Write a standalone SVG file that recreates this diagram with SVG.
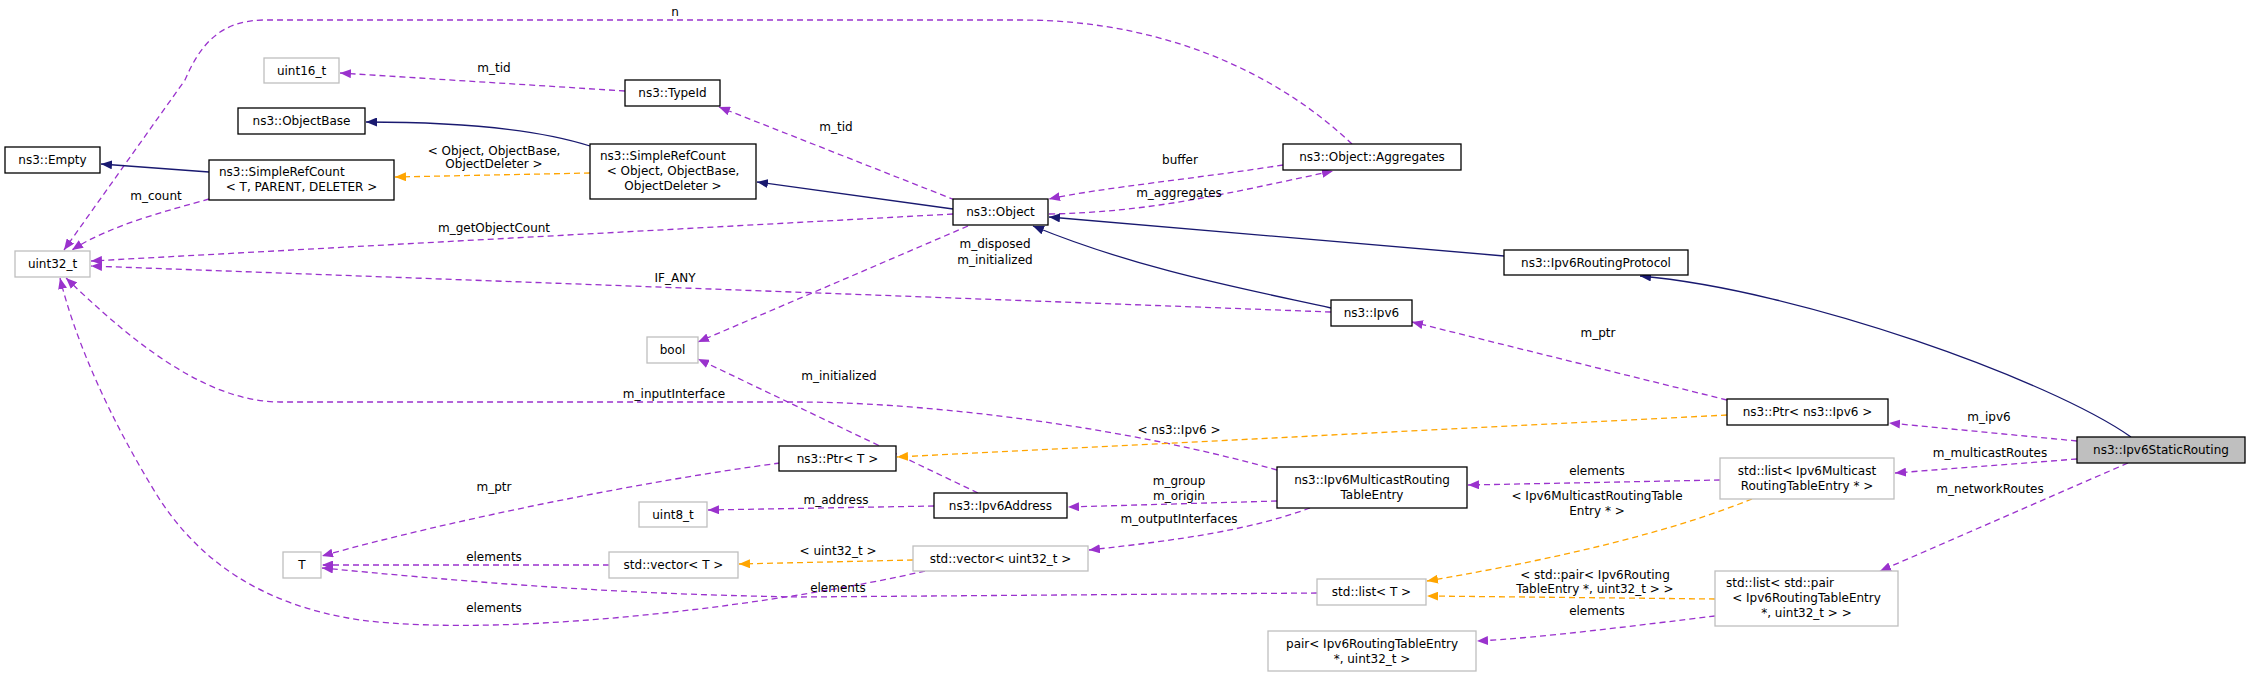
<svg xmlns="http://www.w3.org/2000/svg" width="2251" height="677" viewBox="0 0 2251 677">
<style>
text{font-family:"DejaVu Sans",sans-serif;font-size:12px;fill:#000}
.n rect{fill:#fff;stroke:#000;stroke-width:1.3}
.g rect{fill:#fff;stroke:#bfbfbf;stroke-width:1.3}
.m{text-anchor:middle}
.e path{fill:none;stroke-width:1.3}
.inh{stroke:#191970;marker-end:url(#ai)}
.mem{stroke:#9a32cd;stroke-dasharray:6,4;marker-end:url(#am)}
.tpl{stroke:#ffa500;stroke-dasharray:6,4;marker-end:url(#at)}
</style>
<defs>
<marker id="ai" markerUnits="userSpaceOnUse" markerWidth="12" markerHeight="9" refX="11" refY="4.5" orient="auto"><path d="M0,0L11,4.5L0,9z" fill="#191970"/></marker>
<marker id="am" markerUnits="userSpaceOnUse" markerWidth="12" markerHeight="9" refX="11" refY="4.5" orient="auto"><path d="M0,0L11,4.5L0,9z" fill="#9a32cd"/></marker>
<marker id="at" markerUnits="userSpaceOnUse" markerWidth="12" markerHeight="9" refX="11" refY="4.5" orient="auto"><path d="M0,0L11,4.5L0,9z" fill="#ffa500"/></marker>
</defs>
<rect width="2251" height="677" fill="#fff"/>
<g id="edges" class="e">
<path class="mem" d="M1352,144 C1290,85 1180,20 1020,20 L265,20 C220,20 200,45 185,80 L64,250"/>
<path class="mem" d="M625,91 L340,73"/>
<path class="mem" d="M955,200 L719,107"/>
<path class="inh" d="M590,146 C540,130 460,122 366,122"/>
<path class="inh" d="M209,172 L101,164"/>
<path class="tpl" d="M590,173 L395,177"/>
<path class="inh" d="M953,209 L757,182"/>
<path class="mem" d="M209,199 C170,210 110,225 72,250"/>
<path class="mem" d="M953,214 L91,261"/>
<path class="mem" d="M1331,312 L91,266"/>
<path class="mem" d="M1283,165 C1200,178 1100,188 1049,199"/>
<path class="mem" d="M1049,214 C1150,212 1220,195 1333,171"/>
<path class="inh" d="M1504,256 L1049,217"/>
<path class="inh" d="M1331,308 C1250,290 1140,270 1033,226"/>
<path class="inh" d="M2131,437 C2050,380 1800,290 1640,276"/>
<path class="mem" d="M968,226 L698,342"/>
<path class="mem" d="M978,493 L698,359"/>
<path class="mem" d="M1277,470 C1100,420 900,402 800,402 L280,402 C200,402 120,330 66,278"/>
<path class="mem" d="M1727,400 L1412,322"/>
<path class="tpl" d="M1727,415 L897,457"/>
<path class="mem" d="M2077,441 L1889,423"/>
<path class="mem" d="M2077,459 L1895,473"/>
<path class="mem" d="M2128,463 L1880,571"/>
<path class="mem" d="M1720,480 L1468,485"/>
<path class="tpl" d="M1752,499 C1650,540 1520,565 1427,581"/>
<path class="tpl" d="M1715,599 L1427,596"/>
<path class="mem" d="M1715,616 C1640,625 1540,638 1477,641"/>
<path class="mem" d="M780,463 C650,480 450,520 322,556"/>
<path class="mem" d="M934,506 L708,510"/>
<path class="mem" d="M1277,501 L1068,507"/>
<path class="mem" d="M1310,508 C1250,530 1180,540 1089,550"/>
<path class="mem" d="M609,565 L322,565"/>
<path class="tpl" d="M913,560 L739,564"/>
<path class="mem" d="M1317,593 L800,597 C600,594 450,580 322,568"/>
<path class="mem" d="M925,571 C800,600 520,640 360,620 C260,605 200,560 160,500 C110,420 75,340 60,278"/>
</g>
<g id="edge-labels" class="m">
<text x="675" y="16">n</text>
<text x="494" y="72">m_tid</text>
<text x="836" y="131">m_tid</text>
<text x="494" y="155">&lt; Object, ObjectBase,</text>
<text x="494" y="168">ObjectDeleter &gt;</text>
<text x="156" y="200">m_count</text>
<text x="494" y="232">m_getObjectCount</text>
<text x="675" y="282">IF_ANY</text>
<text x="1180" y="164">buffer</text>
<text x="1179" y="197">m_aggregates</text>
<text x="995" y="248">m_disposed</text>
<text x="995" y="264">m_initialized</text>
<text x="674" y="398">m_inputInterface</text>
<text x="839" y="380">m_initialized</text>
<text x="1598" y="337">m_ptr</text>
<text x="1179" y="434">&lt; ns3::Ipv6 &gt;</text>
<text x="1989" y="421">m_ipv6</text>
<text x="1990" y="457">m_multicastRoutes</text>
<text x="1990" y="493">m_networkRoutes</text>
<text x="1597" y="475">elements</text>
<text x="1597" y="500">&lt; Ipv6MulticastRoutingTable</text>
<text x="1597" y="515">Entry * &gt;</text>
<text x="1179" y="485">m_group</text>
<text x="1179" y="500">m_origin</text>
<text x="836" y="504">m_address</text>
<text x="1179" y="523">m_outputInterfaces</text>
<text x="494" y="491">m_ptr</text>
<text x="838" y="555">&lt; uint32_t &gt;</text>
<text x="494" y="561">elements</text>
<text x="838" y="592">elements</text>
<text x="494" y="612">elements</text>
<text x="1595" y="579">&lt; std::pair&lt; Ipv6Routing</text>
<text x="1595" y="593">TableEntry *, uint32_t &gt; &gt;</text>
<text x="1597" y="615">elements</text>
</g>
<g id="node-uint16" class="g"><rect x="264" y="58" width="75" height="25"/><text class="m" x="301.5" y="75">uint16_t</text></g>
<g id="node-typeid" class="n"><rect x="625" y="80" width="95" height="26"/><text class="m" x="672.5" y="97">ns3::TypeId</text></g>
<g id="node-objectbase" class="n"><rect x="238" y="108" width="127" height="26"/><text class="m" x="301.5" y="125">ns3::ObjectBase</text></g>
<g id="node-empty" class="n"><rect x="5" y="147" width="95" height="26"/><text class="m" x="52.5" y="164">ns3::Empty</text></g>
<g id="node-srct" class="n"><rect x="209" y="160" width="185" height="40"/><text x="219" y="176">ns3::SimpleRefCount</text><text class="m" x="301.5" y="191">&lt; T, PARENT, DELETER &gt;</text></g>
<g id="node-srco" class="n"><rect x="590" y="144" width="166" height="55"/><text x="600" y="160">ns3::SimpleRefCount</text><text class="m" x="673" y="175">&lt; Object, ObjectBase,</text><text class="m" x="673" y="190">ObjectDeleter &gt;</text></g>
<g id="node-uint32" class="g"><rect x="15" y="251" width="75" height="26"/><text class="m" x="52.5" y="268">uint32_t</text></g>
<g id="node-object" class="n"><rect x="953" y="199" width="95" height="26"/><text class="m" x="1000.5" y="216">ns3::Object</text></g>
<g id="node-aggregates" class="n"><rect x="1283" y="144" width="178" height="26"/><text class="m" x="1372" y="161">ns3::Object::Aggregates</text></g>
<g id="node-rp" class="n"><rect x="1504" y="250" width="184" height="25"/><text class="m" x="1596" y="267">ns3::Ipv6RoutingProtocol</text></g>
<g id="node-ipv6" class="n"><rect x="1331" y="300" width="81" height="26"/><text class="m" x="1371.5" y="317">ns3::Ipv6</text></g>
<g id="node-bool" class="g"><rect x="647" y="337" width="51" height="26"/><text class="m" x="672.5" y="354">bool</text></g>
<g id="node-ptrt" class="n"><rect x="779" y="446" width="117" height="25"/><text class="m" x="837.5" y="463">ns3::Ptr&lt; T &gt;</text></g>
<g id="node-ptripv6" class="n"><rect x="1727" y="399" width="161" height="26"/><text class="m" x="1807.5" y="416">ns3::Ptr&lt; ns3::Ipv6 &gt;</text></g>
<g id="node-static"><rect x="2077" y="437" width="168" height="26" fill="#bfbfbf" stroke="#000" stroke-width="1.3"/><text class="m" x="2161" y="454">ns3::Ipv6StaticRouting</text></g>
<g id="node-uint8" class="g"><rect x="639" y="502" width="68" height="25"/><text class="m" x="673" y="519">uint8_t</text></g>
<g id="node-addr" class="n"><rect x="934" y="493" width="133" height="25"/><text class="m" x="1000.5" y="510">ns3::Ipv6Address</text></g>
<g id="node-mre" class="n"><rect x="1277" y="467" width="190" height="41"/><text class="m" x="1372" y="484">ns3::Ipv6MulticastRouting</text><text class="m" x="1372" y="499">TableEntry</text></g>
<g id="node-listm" class="g"><rect x="1720" y="458" width="174" height="41"/><text class="m" x="1807" y="475">std::list&lt; Ipv6Multicast</text><text class="m" x="1807" y="490">RoutingTableEntry * &gt;</text></g>
<g id="node-t" class="g"><rect x="283" y="552" width="38" height="26"/><text class="m" x="302" y="569">T</text></g>
<g id="node-vect" class="g"><rect x="609" y="552" width="129" height="26"/><text class="m" x="673.5" y="569">std::vector&lt; T &gt;</text></g>
<g id="node-vecu" class="g"><rect x="913" y="546" width="175" height="25"/><text class="m" x="1000.5" y="563">std::vector&lt; uint32_t &gt;</text></g>
<g id="node-listt" class="g"><rect x="1317" y="579" width="109" height="26"/><text class="m" x="1371.5" y="596">std::list&lt; T &gt;</text></g>
<g id="node-listp" class="g"><rect x="1715" y="571" width="183" height="55"/><text x="1726" y="587">std::list&lt; std::pair</text><text class="m" x="1806.5" y="602">&lt; Ipv6RoutingTableEntry</text><text class="m" x="1806.5" y="617">*, uint32_t &gt; &gt;</text></g>
<g id="node-pair" class="g"><rect x="1268" y="631" width="208" height="40"/><text class="m" x="1372" y="648">pair&lt; Ipv6RoutingTableEntry</text><text class="m" x="1372" y="663">*, uint32_t &gt;</text></g>
</svg>
